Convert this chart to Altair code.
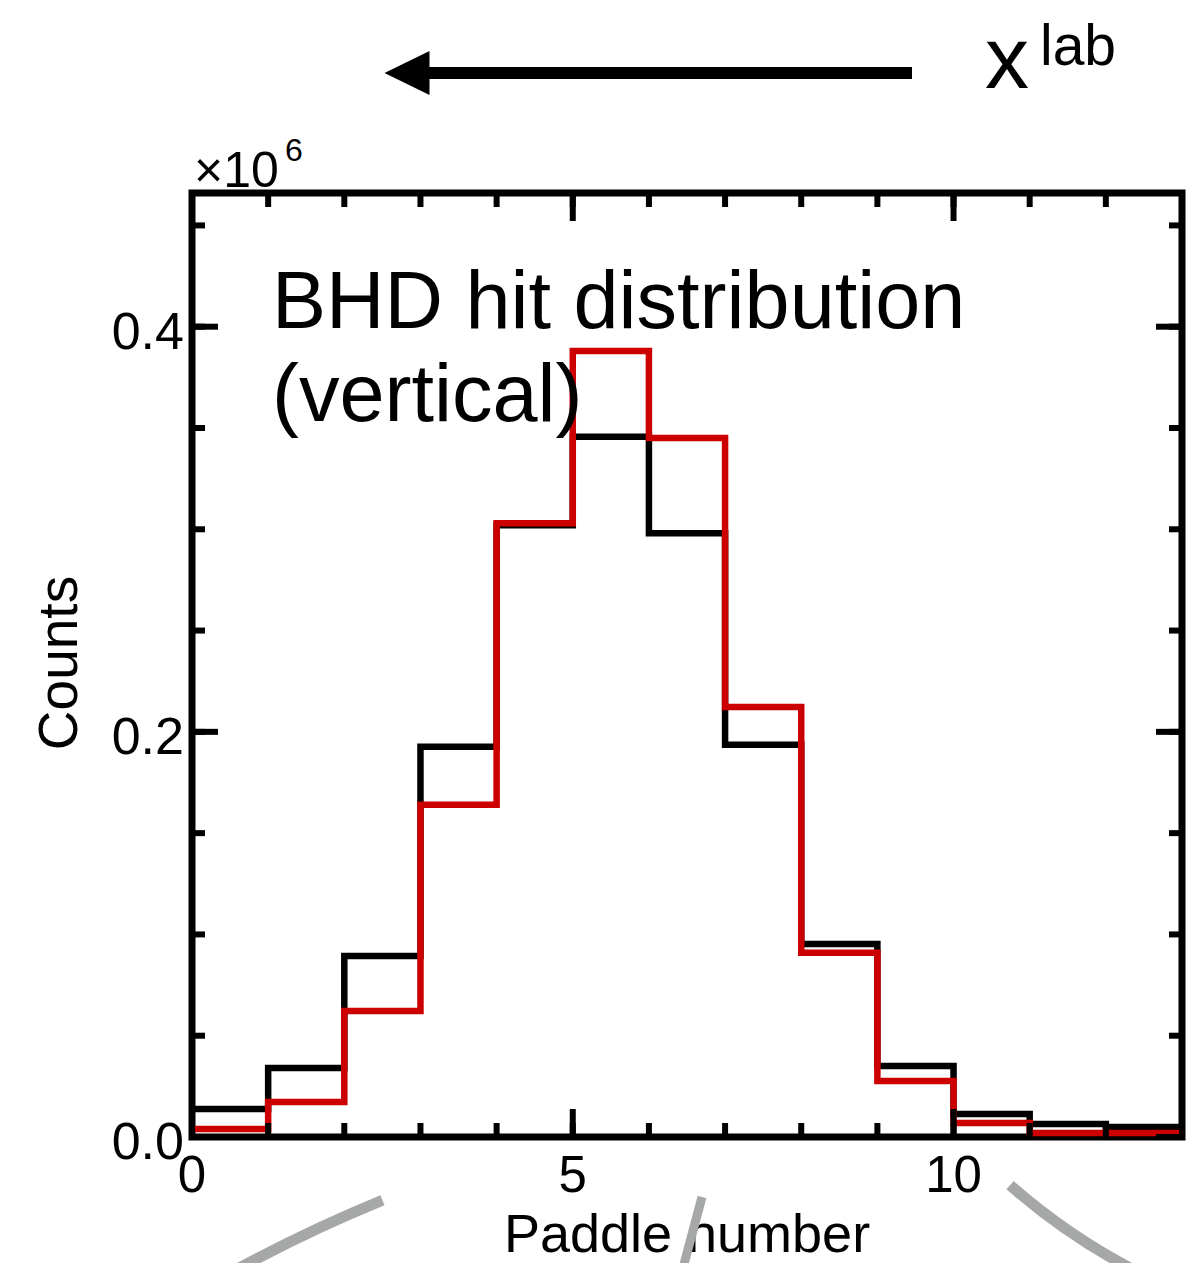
import altair as alt
import pandas as pd

# ---------------- data (counts in units of 10^6) ----------------
paddle_edges = list(range(14))          # bin edges 0..13
black_counts = [0.0138, 0.0341, 0.0894, 0.1926, 0.302, 0.3457, 0.298,
                0.1936, 0.0953, 0.035, 0.0114, 0.0064, 0.0049]
red_counts = [0.004, 0.0173, 0.0622, 0.164, 0.303, 0.388, 0.345,
              0.2123, 0.0909, 0.0277, 0.0069, 0.002, 0.002]
x_major = [0, 5, 10]
x_major_labels = ["0", "5", "10"]
x_minor = list(range(14))
y_major = [0.0, 0.2, 0.4]
y_major_labels = ["0.0", "0.2", "0.4"]
y_minor = [0.0, 0.05, 0.1, 0.15, 0.2, 0.25, 0.3, 0.35, 0.4, 0.45]

W, H = 990, 944
FONT = "Liberation Sans"
GRAY = "#a6a8a7"

xs = alt.Scale(domain=[0, 13], nice=False, zero=False)
ys = alt.Scale(domain=[0, 0.466], nice=False, zero=False)

black_df = pd.DataFrame({"paddle": paddle_edges, "counts": black_counts + [black_counts[-1]]})
red_df = pd.DataFrame({"paddle": paddle_edges, "counts": red_counts + [red_counts[-1]]})

black_line = alt.Chart(black_df).mark_line(interpolate="step-after", color="black", strokeWidth=6.5).encode(
    x=alt.X("paddle:Q", scale=xs, axis=None),
    y=alt.Y("counts:Q", scale=ys, axis=None),
)
red_line = alt.Chart(red_df).mark_line(interpolate="step-after", color="#cc0000", strokeWidth=6.5).encode(
    x=alt.X("paddle:Q", scale=xs, axis=None),
    y=alt.Y("counts:Q", scale=ys, axis=None),
)

layers = [black_line, red_line]

# inward tick marks on all four sides
def xticks(vals, length):
    d = pd.DataFrame({"t": vals})
    bottom = alt.Chart(d).mark_rule(color="black", strokeWidth=6).encode(
        x=alt.X("t:Q", scale=xs, axis=None), y=alt.value(H), y2=alt.value(H - length))
    top = alt.Chart(d).mark_rule(color="black", strokeWidth=6).encode(
        x=alt.X("t:Q", scale=xs, axis=None), y=alt.value(0), y2=alt.value(length))
    return [bottom, top]

def yticks(vals, length):
    d = pd.DataFrame({"t": vals})
    left = alt.Chart(d).mark_rule(color="black", strokeWidth=6).encode(
        y=alt.Y("t:Q", scale=ys, axis=None), x=alt.value(0), x2=alt.value(length))
    right = alt.Chart(d).mark_rule(color="black", strokeWidth=6).encode(
        y=alt.Y("t:Q", scale=ys, axis=None), x=alt.value(W), x2=alt.value(W - length))
    return [left, right]

layers += xticks(x_minor, 14) + xticks(x_major, 28) + yticks(y_minor, 13) + yticks(y_major, 26)

# tick labels
xl = pd.DataFrame({"t": x_major, "lbl": x_major_labels})
layers.append(alt.Chart(xl).mark_text(font=FONT, fontSize=51, color="black", align="center",
                                      baseline="alphabetic").encode(
    x=alt.X("t:Q", scale=xs, axis=None), y=alt.value(999), text="lbl:N"))
yl = pd.DataFrame({"t": y_major, "lbl": y_major_labels})
layers.append(alt.Chart(yl).mark_text(font=FONT, fontSize=52, color="black", align="right",
                                      baseline="alphabetic", dy=22).encode(
    y=alt.Y("t:Q", scale=ys, axis=None), x=alt.value(-8), text="lbl:N"))

one = pd.DataFrame({"k": [1]})

def label(text, x, y, size, align="left", angle=0):
    return alt.Chart(one).mark_text(text=text, font=FONT, fontSize=size, color="black",
                                    align=align, baseline="alphabetic", angle=angle).encode(
        x=alt.value(x), y=alt.value(y))

layers += [
    label("Paddle number", W / 2, 1059, 54, align="center"),
    label("Counts", -115, 470, 55, align="center", angle=270),
    label("BHD hit distribution", 80, 135, 81),
    label("(vertical)", 80, 228, 81),
    label("\u00d710", 2, -6, 50),
    label("6", 93, -32, 32),
    label("x", 793, -105, 88),
    label("lab", 848, -128, 57),
]

# arrow pointing left
layers.append(alt.Chart(one).mark_rule(color="black", strokeWidth=12).encode(
    x=alt.value(236), x2=alt.value(720), y=alt.value(-120)))
layers.append(alt.Chart(one).mark_point(shape="M -1 0 L 1 -0.98 L 1 0.98 Z", filled=True,
                                        color="black", opacity=1, size=2025).encode(
    x=alt.value(215), y=alt.value(-120)))

# grey detector arcs below the plot (centre x, centre y, radius, theta range)
for cx, cy, r, t1, t2 in [(760, 2396, 1501, 5.75, 5.894), (1228, 527, 620, 3.55, 3.864)]:
    layers.append(alt.Chart(one).mark_arc(color=GRAY, theta=t1, theta2=t2,
                                          radius=r + 5.5, radius2=r - 5.5).encode(
        x=alt.value(cx), y=alt.value(cy)))
layers.append(alt.Chart(one).mark_rule(color=GRAY, strokeWidth=9).encode(
    x=alt.value(510), x2=alt.value(491), y=alt.value(1004), y2=alt.value(1075)))

chart = alt.layer(*layers).properties(
    width=W, height=H,
    background="white",
    autosize=alt.AutoSizeParams(type="none"),
    padding={"left": 192, "top": 193, "right": 7, "bottom": 126},
).configure_view(stroke="black", strokeWidth=7)

chart.save("out.html", embed_options={"renderer": "svg", "actions": False})
